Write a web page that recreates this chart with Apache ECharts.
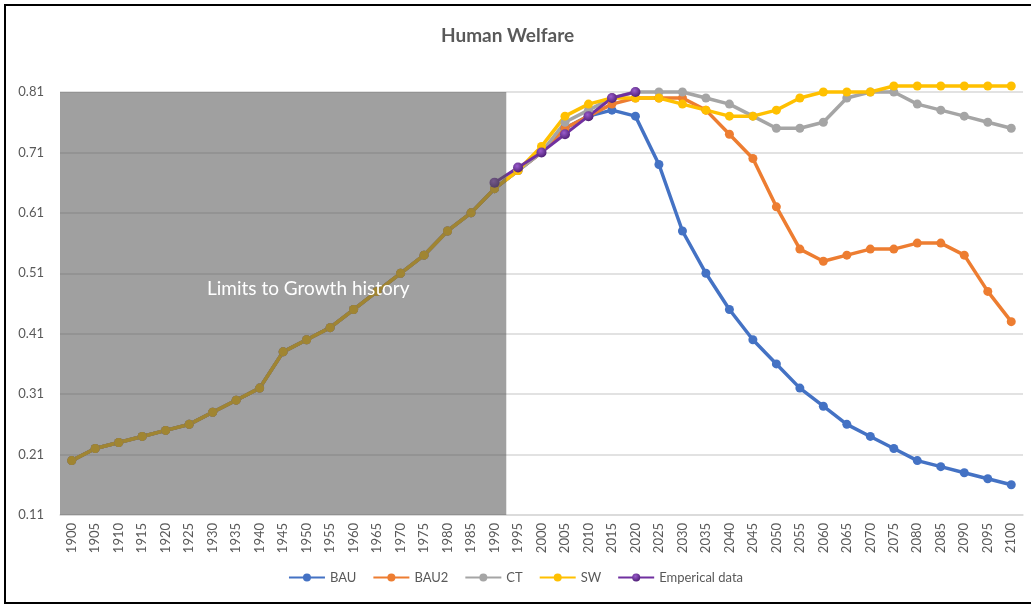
<!DOCTYPE html>
<html>
<head>
<meta charset="utf-8">
<title>Human Welfare</title>
<script src="https://cdn.jsdelivr.net/npm/echarts@6/dist/echarts.min.js"></script>
<style>
    html, body { margin: 0; padding: 0; background: #fff; }
    #chart { width: 1031px; height: 605px; }
</style>
</head>
<body>
<div id="chart"></div>
<script>
// years on the x axis
const years = []
for (let y = 1900; y <= 2100; y += 5) years.push(String(y))

// shared model run 1900-1990
const history = [0.20, 0.22, 0.23, 0.24, 0.25, 0.26, 0.28, 0.30, 0.32, 0.38,
    0.40, 0.42, 0.45, 0.48, 0.51, 0.54, 0.58, 0.61, 0.65]
const historyStart = '1900'
const historyEnd = '1990'

// scenarios 1995-2100
const bauFuture = [0.68, 0.71, 0.75, 0.77, 0.78, 0.77, 0.69, 0.58, 0.51, 0.45, 0.40,
    0.36, 0.32, 0.29, 0.26, 0.24, 0.22, 0.20, 0.19, 0.18, 0.17, 0.16]
const bau2Future = [0.68, 0.71, 0.75, 0.77, 0.79, 0.80, 0.80, 0.80, 0.78, 0.74, 0.70,
    0.62, 0.55, 0.53, 0.54, 0.55, 0.55, 0.56, 0.56, 0.54, 0.48, 0.43]
const ctFuture = [0.68, 0.71, 0.76, 0.78, 0.80, 0.81, 0.81, 0.81, 0.80, 0.79, 0.77,
    0.75, 0.75, 0.76, 0.80, 0.81, 0.81, 0.79, 0.78, 0.77, 0.76, 0.75]
const swFuture = [0.68, 0.72, 0.77, 0.79, 0.80, 0.80, 0.80, 0.79, 0.78, 0.77, 0.77,
    0.78, 0.80, 0.81, 0.81, 0.81, 0.82, 0.82, 0.82, 0.82, 0.82, 0.82]

// observed data
const empiricalYears = ['1990', '1995', '2000', '2005', '2010', '2015', '2020']
const empiricalValues = [0.66, 0.685, 0.71, 0.74, 0.77, 0.80, 0.81]

const yTicks = { min: 0.11, max: 0.81, interval: 0.1 }

const empirical = years.map(y => {
    const i = empiricalYears.indexOf(y)
    return i < 0 ? '-' : empiricalValues[i]
})

const font = 'Lato, "Open Sans", sans-serif'
const textGrey = '#595959'

function lineSeries (name, color, data) {
    return {
        name: name,
        type: 'line',
        data: data,
        clip: false,
        symbol: 'circle',
        symbolSize: 9,
        lineStyle: { color: color, width: 3.5 },
        itemStyle: { color: color },
        z: 2
    }
}

const chart = echarts.init(document.getElementById('chart'))
chart.setOption({
    animation: false,
    backgroundColor: '#fff',
    textStyle: { fontFamily: font },
    title: {
        text: 'Human Welfare',
        left: 436,
        top: 21,
        textStyle: { fontFamily: font, fontSize: 19, fontWeight: 'bold', color: textGrey }
    },
    grid: { left: 60, right: 8, top: 92, bottom: 90 },
    legend: {
        data: ['BAU', 'BAU2', 'CT', 'SW', 'Emperical data'],
        bottom: 16,
        left: 'center',
        itemWidth: 36,
        itemHeight: 10,
        itemGap: 16,
        textStyle: { fontFamily: font, fontSize: 13, color: textGrey }
    },
    xAxis: {
        type: 'category',
        data: years,
        boundaryGap: true,
        axisLine: { lineStyle: { color: '#d9d9d9', width: 1.5 } },
        axisTick: { show: false },
        axisLabel: { rotate: 90, interval: 0, margin: 8, fontSize: 13, color: textGrey, fontFamily: font }
    },
    yAxis: {
        type: 'value',
        min: yTicks.min,
        max: yTicks.max,
        interval: yTicks.interval,
        axisLine: { show: false },
        axisTick: { show: false },
        splitLine: { lineStyle: { color: '#d9d9d9', width: 1.5 } },
        axisLabel: {
            margin: 16, fontSize: 13, color: textGrey, fontFamily: font,
            formatter: v => v.toFixed(2)
        }
    },
    series: [
        lineSeries('BAU', '#4472C4', history.concat(bauFuture)),
        lineSeries('BAU2', '#ED7D31', history.concat(bau2Future)),
        lineSeries('CT', '#A5A5A5', history.concat(ctFuture)),
        lineSeries('SW', '#FFC000', history.concat(swFuture)),
        {
            name: 'Emperical data',
            type: 'line',
            data: empirical,
            clip: false,
            symbol: 'circle',
            symbolSize: 10,
            lineStyle: { color: '#7030A0', width: 3 },
            itemStyle: {
                color: {
                    type: 'radial', x: 0.4, y: 0.35, r: 0.7,
                    colorStops: [
                        { offset: 0, color: '#9a5ccc' },
                        { offset: 1, color: '#4b1b72' }
                    ]
                }
            },
            z: 2
        },
        {
            // grey shading over the Limits to Growth history, one band-wide rect
            name: 'history',
            type: 'custom',
            silent: true,
            z: 5,
            encode: { x: [0, 1] },
            data: [[years.indexOf(historyStart), years.indexOf(historyEnd)]],
            renderItem: (params, api) => {
                const band = api.size([1, 0])[0]
                const p0 = api.coord([api.value(0), yTicks.max])
                const p1 = api.coord([api.value(1), yTicks.min])
                return {
                    type: 'rect',
                    shape: { x: p0[0] - band / 2, y: p0[1], width: p1[0] - p0[0] + band, height: p1[1] - p0[1] },
                    style: { fill: 'rgba(88,88,88,0.57)' }
                }
            }
        }
    ],
    graphic: [
        {
            type: 'text',
            left: 207,
            top: 279,
            z: 10,
            style: { text: 'Limits to Growth history', fill: '#fff', font: '19px ' + font }
        },
        {
            type: 'rect',
            shape: { x: 5, y: 5, width: 1040, height: 598 },
            style: { fill: null, stroke: '#000', lineWidth: 2 },
            z: 10
        }
    ]
})
</script>
</body>
</html>
